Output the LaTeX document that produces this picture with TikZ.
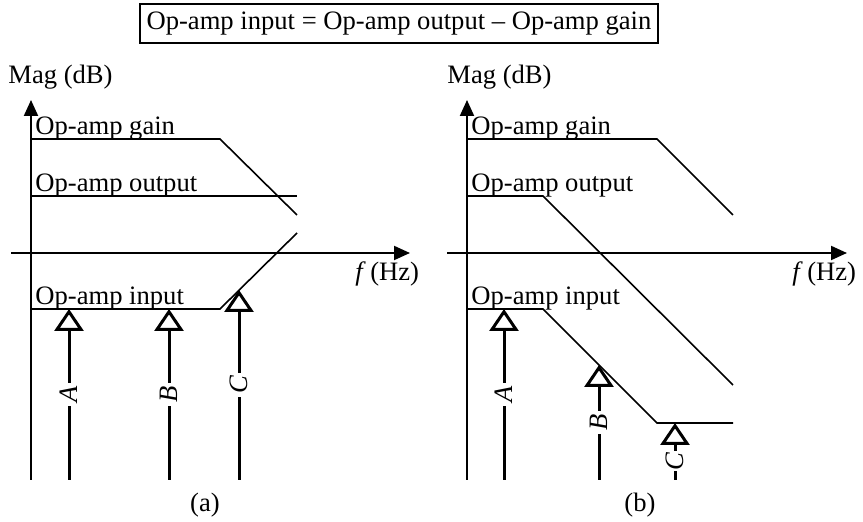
\documentclass[tikz,border=0pt]{standalone}
\usepackage{fontspec}
\setmainfont{Liberation Serif}
\usetikzlibrary{arrows.meta}

\begin{document}
\begin{tikzpicture}[x=0.5pt, y=-0.5pt, font=\fontsize{13.3}{16}\selectfont]
    \tikzstyle{axis}  = [line width=1pt, -{Triangle[length=8pt, width=7pt]}]
    \tikzstyle{curve} = [line width=0.8pt]
    \tikzstyle{probe} = [line width=1.5pt, -{Triangle[open, length=11pt, width=14.5pt]}]
    \tikzstyle{plab}  = [fill=white, rotate=90, inner sep=1.5pt, font=\fontsize{13.3}{16}\selectfont\itshape]
    \tikzstyle{txt}   = [anchor=base west, inner sep=0pt]
    \useasboundingbox (0,0) rectangle (863,522);

    \node (eqn) [draw, line width=1pt, minimum width=251.5pt, minimum height=19.5pt] at (399,24)
        {Op-amp input = Op-amp output – Op-amp gain};

    % panel (a)
    \coordinate (ya0) at (31,480);  \coordinate (ya1) at (31,100);
    \coordinate (xa0) at (11,253);  \coordinate (xa1) at (410,253);
    \draw [axis] (ya0) -- (ya1);
    \draw [axis] (xa0) -- (xa1);
    \node (maga) [txt] at (8,84)   {Mag (dB)};
    \node (fa)   [txt] at (355,281) {\textit{f}\,(Hz)};

    \coordinate (ga0) at (31,139);  \coordinate (ga1) at (220,139); \coordinate (ga2) at (297,215);
    \coordinate (oa0) at (31,196);  \coordinate (oa1) at (297,196);
    \coordinate (ia0) at (31,309);  \coordinate (ia1) at (220,309); \coordinate (ia2) at (297,233);
    \draw [curve] (ga0) -- (ga1) -- (ga2);
    \draw [curve] (oa0) -- (oa1);
    \draw [curve] (ia0) -- (ia1) -- (ia2);
    \node (gaina) [txt] at (35,135) {Op-amp gain};
    \node (outa)  [txt] at (35,192) {Op-amp output};
    \node (ina)   [txt] at (35,305) {Op-amp input};

    \coordinate (pa0) at (69,480);  \coordinate (pa1) at (69,309);
    \coordinate (pb0) at (169,480); \coordinate (pb1) at (169,309);
    \coordinate (pc0) at (239,480); \coordinate (pc1) at (239,290);
    \draw [probe] (pa0) -- node [plab] {A} (pa1);
    \draw [probe] (pb0) -- node [plab] {B} (pb1);
    \draw [probe] (pc0) -- node [plab] {C} (pc1);
    \node (capa) [anchor=base] at (205,512) {(a)};

    % panel (b)
    \coordinate (yb0) at (467,480); \coordinate (yb1) at (467,100);
    \coordinate (xb0) at (447,253); \coordinate (xb1) at (847,253);
    \draw [axis] (yb0) -- (yb1);
    \draw [axis] (xb0) -- (xb1);
    \node (magb) [txt] at (447,84)  {Mag (dB)};
    \node (fb)   [txt] at (792,281) {\textit{f}\,(Hz)};

    \coordinate (gb0) at (467,139); \coordinate (gb1) at (657,139); \coordinate (gb2) at (733,215);
    \coordinate (ob0) at (467,196); \coordinate (ob1) at (543,196); \coordinate (ob2) at (733,385);
    \coordinate (ib0) at (467,309); \coordinate (ib1) at (543,309); \coordinate (ib2) at (657,423);
    \coordinate (ib3) at (733,423);
    \draw [curve] (gb0) -- (gb1) -- (gb2);
    \draw [curve] (ob0) -- (ob1) -- (ob2);
    \draw [curve] (ib0) -- (ib1) -- (ib2) -- (ib3);
    \node (gainb) [txt] at (471,135) {Op-amp gain};
    \node (outb)  [txt] at (471,192) {Op-amp output};
    \node (inb)   [txt] at (471,305) {Op-amp input};

    \coordinate (qa0) at (504,480); \coordinate (qa1) at (504,309);
    \coordinate (qb0) at (599,480); \coordinate (qb1) at (599,365);
    \coordinate (qc0) at (675,480); \coordinate (qc1) at (675,423);
    \draw [probe] (qa0) -- node [plab] {A} (qa1);
    \draw [probe] (qb0) -- node [plab] {B} (qb1);
    \draw [probe] (qc0) -- node [plab, inner sep=0.5pt, pos=0.33] {C} (qc1);
    \node (capb) [anchor=base] at (640,512) {(b)};
\end{tikzpicture}
\end{document}
